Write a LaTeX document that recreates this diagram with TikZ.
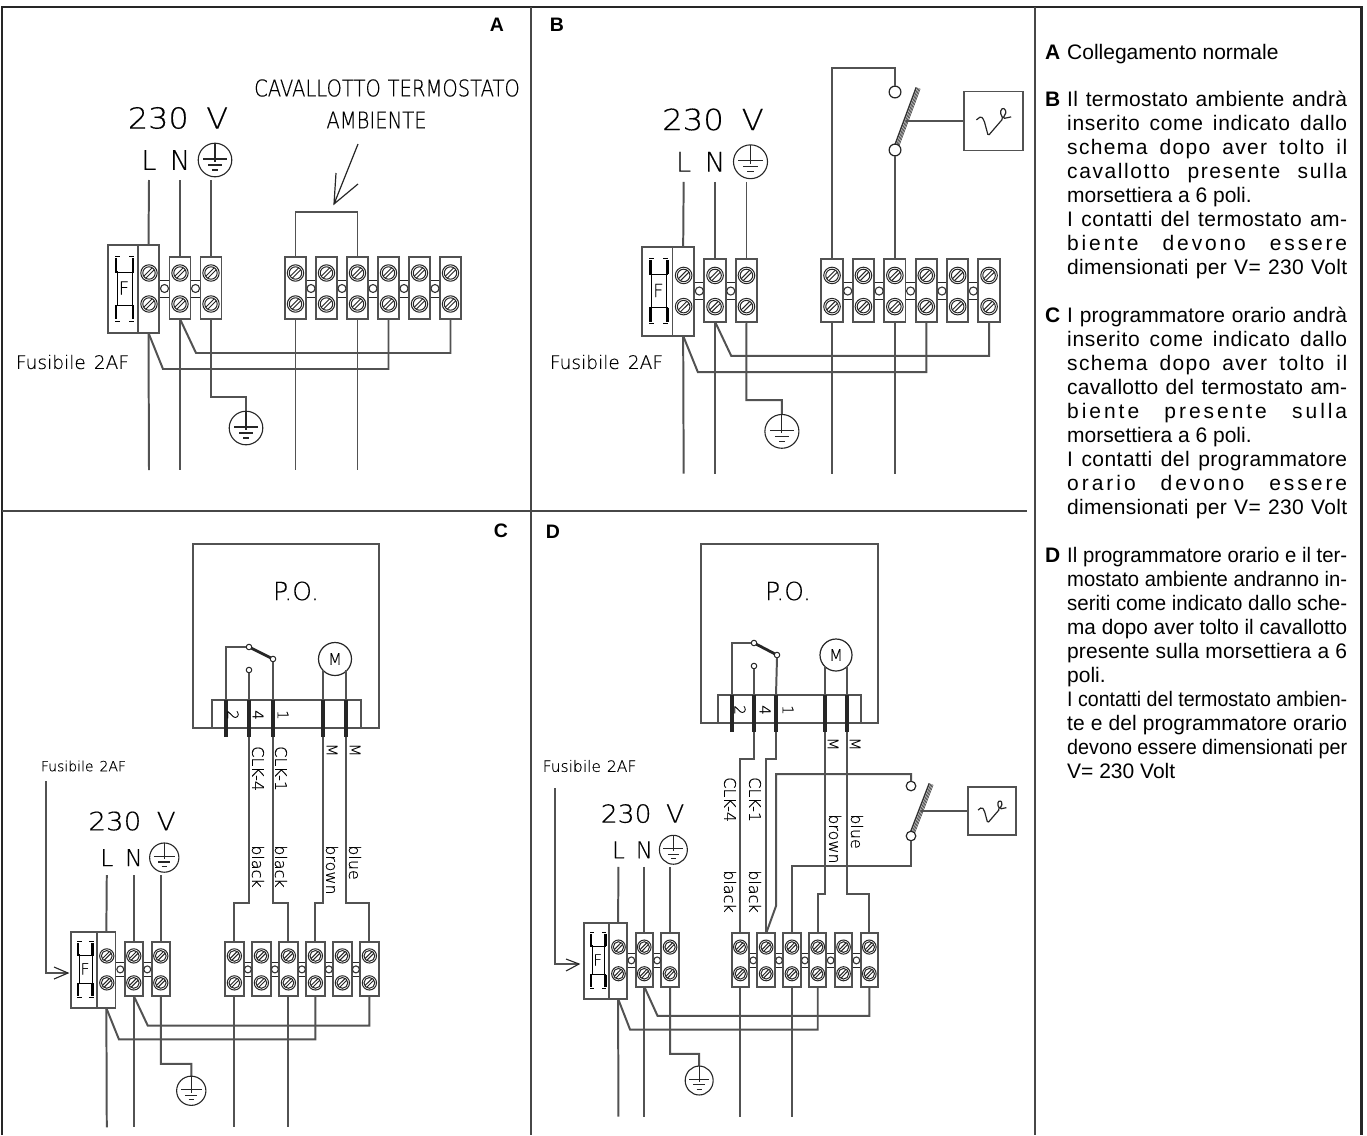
\documentclass[tikz,border=0pt]{standalone}
\usepackage{fontspec}
\usepackage{graphicx}
\usepackage{xstring}
\setmainfont{Liberation Sans}
\newfontfamily\cad[FakeBold=.35]{DejaVu Sans ExtraLight}
\tikzset{
 wire/.style={line width=1.98pt,black!68,line cap=butt,line join=miter},
 thin wire/.style={line width=1.98pt,black!68},
 frameline/.style={line width=1.98pt,black!72},
 heavyframe/.style={line width=2.98pt,black!85},
 termbox/.style={draw=black!68,line width=1.98pt,fill=white,inner sep=0,outer sep=0,transform shape},
 tiny ring/.style={circle,draw=black!80,line width=1.1pt,fill=white,inner sep=0,outer sep=0,transform shape,minimum size=8pt},
 pinbar/.style={fill=black!85,inner sep=0,outer sep=0,minimum width=3.8pt},
 caplbl/.style={font=\cad\fontsize{16}{16}\selectfont,rotate=-90,anchor=west,inner sep=0},
 pinlbl/.style={font=\cad\fontsize{15}{15}\selectfont,rotate=-90,inner sep=0},
 panelid/.style={font=\bfseries\fontsize{19.5}{19.5}\selectfont,inner sep=0},
 legtext/.style={font=\fontsize{21}{24}\selectfont,anchor=base west,inner sep=0},
 legid/.style={font=\bfseries\fontsize{21}{24}\selectfont,anchor=base west,inner sep=0},
 swball/.style={circle,draw=black!85,line width=1.2pt,fill=white,inner sep=0,outer sep=0,minimum size=#1},
 swdot/.style={circle,draw=black!85,line width=1pt,fill=white,inner sep=0,outer sep=0,minimum size=5.5pt},
 motor/.style={circle,draw=black!85,line width=1.2pt,inner sep=0,outer sep=0,minimum size=33pt,font=\cad\fontsize{16}{16}\selectfont},
 plainbox/.style={draw=black!68,line width=1.98pt,inner sep=0,outer sep=0},
}
\newcommand\boxn[6][]{% style, name, x1,y1,x2,y2
 \pgfmathsetmacro\bxa{(#3+#5)/2}\pgfmathsetmacro\bya{(#4+#6)/2}%
 \pgfmathsetmacro\bxw{abs(#5-#3)}\pgfmathsetmacro\byh{abs(#6-#4)}%
 \node[plainbox,minimum width=\bxw pt,minimum height=\byh pt,#1] (#2) at (\bxa,\bya) {};}
\newcommand\screw[2]{\begin{scope}[shift={(#1,#2)}]
 \draw[line width=1pt,black!85,fill=white] (0,0) circle[radius=8.2pt];
 \draw[line width=1pt,black!85] (0,0) circle[radius=6.2pt];
 \draw[line width=1pt,black!85] (-3.2,5.2)--(5.2,-3.2) (-5.2,3.2)--(3.2,-5.2);
 \end{scope}}
\newcommand\term[2]{% name, x
 \node[termbox,minimum width=21pt,minimum height=62pt] (#1) at (#2,288) {};
 \screw{#2}{273}\screw{#2}{304}}
\newcommand\linkbar[1]{% x
 \draw[wire,line width=1pt,black!85,fill=white] (#1-6,280) rectangle (#1+6,297);}
\newcommand\lring[2]{\node[tiny ring] (#1) at (#2,288.5) {};}
\newcommand\gnd[2]{% x y
 \draw[line width=1.1pt,black!85] (#1,#2) circle[radius=16.8pt];
 \draw[line width=1.1pt,black!85] (#1,#2-16.8)--(#1,#2+2) (#1-12,#2-1)--(#1+12,#2-1) (#1-7,#2+5)--(#1+7,#2+5) (#1-3,#2+10)--(#1+3,#2+10);}
\newcommand\fuse{%
 \draw[line width=.7pt] (117,271)--(117,305) (132,271)--(132,305);
 \foreach \yy/\yz/\yi in {272/256/258,305/321/319}{
  \draw[line width=2.8pt] (116,\yy)--(116,\yi) (133,\yy)--(133,\yi);
  \draw[line width=1pt] (115,\yy)--(134,\yy) (115,\yz)--(120,\yz) (129,\yz)--(134,\yz);}
 }
\newcommand\wiringbase[1]{%
 \linkbar{164.5}\linkbar{195.5}
 \foreach \x in {311,342,373,404,435}{\linkbar{\x}}
 \node[termbox,minimum width=30pt,minimum height=88pt] (#1fb) at (123,289) {};
 \node[termbox,minimum width=21pt,minimum height=88pt] (#1tl) at (148.5,289) {};
 \screw{149}{273}\screw{149}{304}
 \fuse
 \node[font=\cad\fontsize{18}{18}\selectfont,transform shape,inner sep=0] (#1ff) at (124,288) {F};
 \term{#1tn}{180}\term{#1te}{211}
 \term{#1t1}{295.5}\term{#1t2}{326.5}\term{#1t3}{357.5}\term{#1t4}{388.5}\term{#1t5}{419.5}\term{#1t6}{450.5}
 \lring{#1r1}{164.5}\lring{#1r2}{195.5}
 \lring{#1r3}{311}\lring{#1r4}{342}\lring{#1r5}{373}\lring{#1r6}{404}\lring{#1r7}{435}
 \node[font=\cad\fontsize{29}{29}\selectfont,transform shape,inner sep=0,xscale=1.1] (#1volt) at (178,118) {230\hspace{16pt}V};
 \node[font=\cad\fontsize{27}{27}\selectfont,transform shape,inner sep=0] (#1L) at (149,160) {L};
 \node[font=\cad\fontsize{27}{27}\selectfont,transform shape,inner sep=0] (#1N) at (180,160) {N};
 \gnd{215}{160}
 \coordinate (#1wl) at (149,180);\coordinate (#1wn) at (180,180);\coordinate (#1we) at (211,180);
 \draw[wire] (#1wl)--(#1tl.north);
 \draw[wire] (#1wn)--(#1tn.north);
 \draw[wire] (#1we)--(#1te.north);
 \coordinate (#1bl) at (149,470);\coordinate (#1bn) at (180,470);
 \coordinate (#1b1) at (295.5,470);\coordinate (#1b3) at (357.5,470);
 \draw[wire] (#1tl.south)--(#1bl);
 \draw[wire] (#1tn.south)--(#1bn);
 \draw[wire] (#1t1.south)--(#1b1);
 \draw[wire] (#1t3.south)--(#1b3);
 \draw[wire] (#1tl.south)--(163,369)-|(#1t4.south);
 \draw[wire] (#1tn.south)--(196,353)-|(#1t6.south);
 \draw[wire] (#1te.south)--(211,397)-|(246,411);
 \gnd{246}{428}
}
\newcommand\thermo[9]{% prefix, xs, ytop, ybot, barx,bary, boxx1, boxx2, armY  (box height = width)
 \pgfmathsetmacro\thw{#8-#7}\pgfmathsetmacro\thba{.2*\thw}%
 \pgfmathsetmacro\thya{#9-\thw/2}\pgfmathsetmacro\thyb{#9+\thw/2}%
 \pgfmathsetmacro\tharm{#2+(#4-#9)/(#4-#6)*(#5-#2)}%
 \node[swball=\thba pt] (#1st) at (#2,#3) {};
 \draw[line width=5.2pt,black!80] (#2,#4)--(#5,#6);
 \draw[line width=.35pt,white] (#2+.5,#4)--(#5+.5,#6) (#2-.7,#4-.5)--(#5-.7,#6-.5) (#2+1.7,#4+.5)--(#5+1.7,#6+.5);
 \node[swball=\thba pt] (#1sb) at (#2,#4) {};
 \boxn{#1th}{#7}{\thya}{#8}{\thyb}
 \begin{scope}[shift={(#7,\thya)},xscale=\thw/100,yscale=\thw/100]
  \draw[line width=1.2pt,black!85,rounded corners=1.5pt] (21,48)--(29,42)--(34,49)--(41,75)--(66,46)--(61,35)--(66,27)--(72,34)--(66,46)--(80,43);
 \end{scope}
 \draw[wire] (\tharm,#9)--(#1th.west);
}
\newcounter{legc}
\newcommand\legline[2]{\stepcounter{legc}\node[legtext] (leg\arabic{legc}) at (1067,#1) {#2};}
\newsavebox\jbox
\newcommand\jl[1]{\sbox\jbox{#1}\StrLen{#1}[\jn]%
 \ifdim\wd\jbox>280pt
  \pgfmathsetmacro\jr{280/(\the\wd\jbox)}\scalebox{\jr}[1]{\usebox\jbox}%
 \else
  \pgfmathsetmacro\jg{100*.72*(280-(\the\wd\jbox))/(\jn*21)}%
  \makebox[280pt][s]{\addfontfeature{LetterSpace=\jg}#1}%
 \fi}
\begin{document}
\begin{tikzpicture}[x=1pt,y=-1pt]
\useasboundingbox (0,0) rectangle (1367,1135);
% frame
\draw[heavyframe,line join=miter] (2,1135)--(2,7)--(1361,7)--(1361,1135);
\draw[frameline] (1034.5,7)--(1034.5,1135);
\draw[frameline] (531,7)--(531,1135);
\draw[frameline] (2,511)--(1027,511);
% panel ids
\node[panelid] (idA) at (497,25) {A};
\node[panelid] (idB) at (557,25) {B};
\node[panelid] (idC) at (501,531) {C};
\node[panelid] (idD) at (553,532) {D};
% ---------- A
\begin{scope}[every node/.style={transform shape}]
\wiringbase{a}
\end{scope}
\node[font=\cad\fontsize{18.6}{18.6}\selectfont,inner sep=0] (afus) at (72.5,362) {Fusibile\hspace{8pt}2AF};
\node[font=\cad\fontsize{23}{23}\selectfont,inner sep=0,xscale=.85] (acav) at (387,88) {CAVALLOTTO\hspace{8pt}TERMOSTATO};
\node[font=\cad\fontsize{23}{23}\selectfont,inner sep=0,xscale=.85] (aamb) at (376.5,120) {AMBIENTE};
\coordinate (ajt) at (0,212);
\draw[wire] (at1.north)--(at1.north|-ajt)-|(at3.north);
\coordinate (aar) at (358,144);\coordinate (aat) at (334,204);
\coordinate (aha) at (336,173);\coordinate (ahb) at (358,184);
\draw[wire,line width=1.2pt,black!85] (aar)--(aat) (aha)--(aat)--(ahb);
% ---------- B
\begin{scope}[shift={(532.7,.8)},xscale=1.013,yscale=1.006,every node/.style={transform shape}]
\wiringbase{b}
\end{scope}
\node[font=\cad\fontsize{18.6}{18.6}\selectfont,inner sep=0] (bfus) at (606.5,362) {Fusibile\hspace{8pt}2AF};
\thermo{b}{895}{92}{150}{918}{88}{964}{1023}{121}
\coordinate (btp) at (0,68);
\draw[wire] (bt1.north)--(bt1.north|-btp)-|(bst.north);
\draw[wire] (bsb.south)--(bsb.south|-bt3.north);
% ---------- C
\begin{scope}[shift={(-23,718.4)},xscale=.871,yscale=.87,every node/.style={transform shape}]
\wiringbase{c}
\end{scope}
\node[font=\cad\fontsize{14}{14}\selectfont,inner sep=0] (cfus) at (83.5,766) {Fusibile\hspace{6pt}2AF};
\coordinate (car) at (46,781);\coordinate (cat) at (68,973);
\coordinate (cha) at (54,967);\coordinate (chb) at (54,979);
\draw[wire] (car)|-(cat);
\draw[line width=1.1pt,black!85] (cha)--(cat)--(chb);
\boxn{cbox}{193}{544}{379}{728}
\node[font=\cad\fontsize{25}{25}\selectfont,inner sep=0] (cpo) at (296,591) {P.O.};
\boxn{cstrip}{212}{700}{361}{728}
\foreach \n/\x in {a/226,b/249,c/273,d/323,e/346}{
 \node[pinbar,minimum height=37pt] (cp\n) at (\x,718.5) {};}
\node[swdot] (csa) at (249,647) {};\node[swdot] (csb) at (273,659) {};\node[swdot] (csc) at (249,670) {};
\draw[line width=2.8pt,black!85] (csa)--(csb);
\draw[thin wire] (cpa.north)|-(csa.west);
\draw[thin wire] (cpb.north)--(csc.south);
\draw[thin wire] (cpc.north)--(csb.south);
\node[motor] (cmot) at (335,659) {M};
\draw[thin wire] (cpd.north)--(cpd.north|-cmot.223);
\draw[thin wire] (cpe.north)--(cpe.north|-cmot.317);
\node[pinlbl] (c2) at (233,715) {2};\node[pinlbl] (c4) at (258,715) {4};\node[pinlbl] (c1) at (283,715) {1};
\node[pinlbl] (cm1) at (332,750) {M};\node[pinlbl] (cm2) at (355,750) {M};
\node[caplbl] (cclk4) at (258,746) {CLK-4};\node[caplbl] (cclk1) at (281,746) {CLK-1};
\node[caplbl] (cbk1) at (258,845) {black};\node[caplbl] (cbk2) at (281,845) {black};
\node[caplbl] (cbrown) at (332,845) {brown};\node[caplbl] (cblue) at (355,845) {blue};
\coordinate (cjg) at (0,903);
\draw[wire] (cpb.south)--(cpb.south|-cjg)-|(ct1.north);
\draw[wire] (cpc.south)--(cpc.south|-cjg)-|(ct3.north);
\draw[wire] (cpd.south)--(cpd.south|-cjg)-|(ct4.north);
\draw[wire] (cpe.south)--(cpe.south|-cjg)-|(ct6.north);
% ---------- D
\begin{scope}[shift={(494.5,712)},xscale=.832,yscale=.861,every node/.style={transform shape}]
\wiringbase{d}
\end{scope}
\node[font=\cad\fontsize{15.5}{15.5}\selectfont,inner sep=0] (dfus) at (589.5,766) {Fusibile\hspace{6pt}2AF};
\coordinate (dar) at (555,788);\coordinate (dat) at (579,964);
\coordinate (dha) at (566,959);\coordinate (dhb) at (566,971);
\draw[wire] (dar)|-(dat);
\draw[line width=1.1pt,black!85] (dha)--(dat)--(dhb);
\boxn{dbox}{701}{544}{878}{723}
\node[font=\cad\fontsize{25}{25}\selectfont,inner sep=0] (dpo) at (788,591) {P.O.};
\boxn{dstrip}{718}{695}{861}{723}
\foreach \n/\x in {a/732,b/754,c/776,d/825,e/847}{
 \node[pinbar,minimum height=37pt] (dp\n) at (\x,713.5) {};}
\node[swdot] (dsa) at (754,643) {};\node[swdot] (dsb) at (777,655) {};\node[swdot] (dsc) at (754,666) {};
\draw[line width=2.8pt,black!85] (dsa)--(dsb);
\draw[thin wire] (dpa.north)|-(dsa.west);
\draw[thin wire] (dpb.north)--(dsc.south);
\draw[thin wire] (dpc.north)--(dsb.south);
\node[motor,minimum size=32pt] (dmot) at (836,655) {M};
\draw[thin wire] (dpd.north)--(dpd.north|-dmot.223);
\draw[thin wire] (dpe.north)--(dpe.north|-dmot.317);
\node[pinlbl] (d2) at (740,710) {2};\node[pinlbl] (d4) at (765,710) {4};\node[pinlbl] (d1) at (788,710) {1};
\node[pinlbl] (dm1) at (833,744) {M};\node[pinlbl] (dm2) at (855,744) {M};
\node[caplbl] (dclk4) at (730,777) {CLK-4};\node[caplbl] (dclk1) at (755,777) {CLK-1};
\node[caplbl] (dbk1) at (730,870) {black};\node[caplbl] (dbk2) at (755,870) {black};
\node[caplbl] (dbrown) at (835,814) {brown};\node[caplbl] (dblue) at (857,814) {blue};
\coordinate (djg) at (0,759);\coordinate (djm) at (0,894);
\draw[wire] (dpb.south)--(dpb.south|-djg)-|(dt1.north);
\draw[wire] (dpc.south)--(dpc.south|-djg)-|(dt2.north);
\draw[wire] (dpd.south)--(dpd.south|-djm)-|(dt4.north);
\draw[wire] (dpe.south)--(dpe.south|-djm)-|(dt6.north);
\thermo{d}{911}{786}{836}{931}{784}{968}{1016}{811}
\coordinate (dtt) at (0,774);\coordinate (dkn) at (776,906);\coordinate (dlw) at (0,866);
\draw[wire] (dt2.north)--(dkn)--(dkn|-dtt)-|(dst.north);
\draw[wire] (dt3.north)--(dt3.north|-dlw)-|(dsb.south);
% ---------- legend
\node[legid] (lgA) at (1045,59) {A};
\legline{59}{Collegamento normale}
\node[legid] (lgB) at (1045,106) {B};
\legline{106}{\jl{Il termostato ambiente andrà}}
\legline{130}{\jl{inserito come indicato dallo}}
\legline{154}{\jl{schema dopo aver tolto il}}
\legline{178}{\jl{cavallotto presente sulla}}
\legline{202}{morsettiera a 6 poli.}
\legline{226}{\jl{I contatti del termostato am-}}
\legline{250}{\jl{biente devono essere}}
\legline{274}{\jl{dimensionati per V= 230 Volt}}
\node[legid] (lgC) at (1045,322) {C};
\legline{322}{\jl{I programmatore orario andrà}}
\legline{346}{\jl{inserito come indicato dallo}}
\legline{370}{\jl{schema dopo aver tolto il}}
\legline{394}{\jl{cavallotto del termostato am-}}
\legline{418}{\jl{biente presente sulla}}
\legline{442}{morsettiera a 6 poli.}
\legline{466}{\jl{I contatti del programmatore}}
\legline{490}{\jl{orario devono essere}}
\legline{514}{\jl{dimensionati per V= 230 Volt}}
\node[legid] (lgD) at (1045,562) {D};
\legline{562}{\jl{Il programmatore orario e il ter-}}
\legline{586}{\jl{mostato ambiente andranno in-}}
\legline{610}{\jl{seriti come indicato dallo sche-}}
\legline{634}{\jl{ma dopo aver tolto il cavallotto}}
\legline{658}{\jl{presente sulla morsettiera a 6}}
\legline{682}{poli.}
\legline{706}{\jl{I contatti del termostato ambien-}}
\legline{730}{\jl{te e del programmatore orario}}
\legline{754}{\jl{devono essere dimensionati per}}
\legline{778}{V= 230 Volt}
\end{tikzpicture}
\end{document}
